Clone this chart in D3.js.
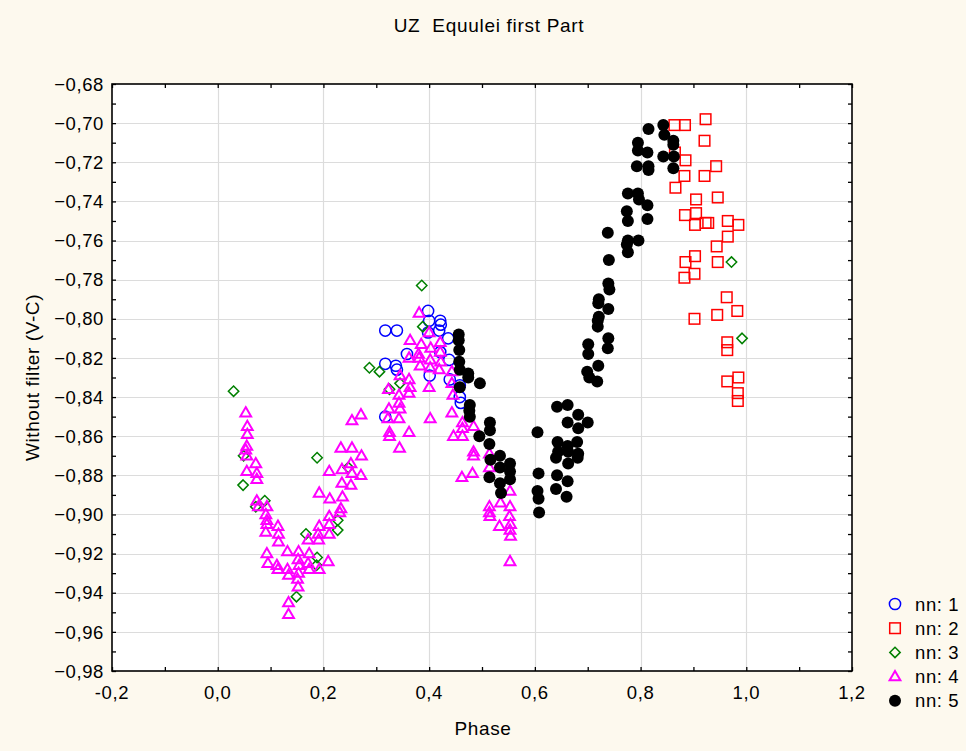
<!DOCTYPE html>
<html><head><meta charset="utf-8">
<script src="https://cdn.jsdelivr.net/npm/d3@7"></script>
<style>
html,body{margin:0;padding:0;background:#fdf9ee;}
svg{display:block;font-family:"Liberation Sans",Arial,sans-serif;}
text{white-space:pre;}
</style></head>
<body><svg id="chart" width="966" height="751"></svg>
<script>
// ---- data: [phase, V-C] ----
const titleText = "UZ  Equulei first Part";
const xLabel = "Phase";
const yLabel = "Without filter (V-C)";
const xTicks = [-0.2, 0.0, 0.2, 0.4, 0.6, 0.8, 1.0, 1.2];
const xTickLabels = ["-0,2","0,0","0,2","0,4","0,6","0,8","1,0","1,2"];
const yTicks = [-0.68,-0.70,-0.72,-0.74,-0.76,-0.78,-0.80,-0.82,-0.84,-0.86,-0.88,-0.90,-0.92,-0.94,-0.96,-0.98];
const seriesNames = ["nn: 1","nn: 2","nn: 3","nn: 4","nn: 5"];

const nn1 = [[0.398,-0.796],[0.400,-0.801],[0.421,-0.801],[0.422,-0.803],[0.419,-0.806],[0.398,-0.807],
 [0.317,-0.806],[0.339,-0.806],[0.436,-0.810],[0.358,-0.818],[0.421,-0.817],[0.438,-0.821],[0.317,-0.823],
 [0.337,-0.824],[0.339,-0.826],[0.401,-0.829],[0.439,-0.831],[0.458,-0.834],[0.458,-0.840],[0.460,-0.843],[0.317,-0.850]];

const nn2 = [[0.864,-0.701],[0.884,-0.701],[0.923,-0.698],[0.921,-0.709],[0.865,-0.715],[0.885,-0.719],[0.943,-0.722],
 [0.883,-0.727],[0.921,-0.727],[0.866,-0.733],[0.905,-0.739],[0.946,-0.738],[0.884,-0.747],[0.905,-0.746],[0.903,-0.752],
 [0.923,-0.751],[0.928,-0.751],[0.965,-0.750],[0.985,-0.752],[0.965,-0.758],[0.944,-0.763],[0.885,-0.771],[0.903,-0.768],
 [0.946,-0.771],[0.883,-0.779],[0.902,-0.777],[0.963,-0.789],[0.983,-0.796],[0.945,-0.798],[0.902,-0.800],[0.964,-0.812],
 [0.964,-0.816],[0.964,-0.832],[0.985,-0.830],[0.984,-0.838],[0.984,-0.842]];

const nn3 = [[0.030,-0.837],[0.049,-0.870],[0.048,-0.885],[0.072,-0.896],[0.089,-0.893],[0.188,-0.871],[0.167,-0.910],
 [0.227,-0.903],[0.227,-0.908],[0.247,-0.876],[0.188,-0.922],[0.187,-0.926],[0.149,-0.942],[0.388,-0.804],[0.287,-0.825],
 [0.306,-0.827],[0.345,-0.833],[0.325,-0.836],[0.386,-0.783],[0.972,-0.771],[0.992,-0.810]];

const nn4 = [[0.053,-0.848],[0.056,-0.855],[0.056,-0.859],[0.055,-0.865],[0.053,-0.867],[0.055,-0.870],[0.055,-0.878],
 [0.072,-0.874],[0.074,-0.879],[0.074,-0.882],[0.074,-0.893],[0.077,-0.896],[0.093,-0.896],[0.091,-0.900],[0.093,-0.903],
 [0.093,-0.905],[0.091,-0.909],[0.114,-0.906],[0.115,-0.910],[0.115,-0.914],[0.093,-0.920],[0.095,-0.925],[0.112,-0.926],
 [0.114,-0.928],[0.132,-0.919],[0.132,-0.928],[0.134,-0.931],[0.134,-0.945],[0.134,-0.951],[0.153,-0.919],[0.152,-0.923],
 [0.154,-0.926],[0.153,-0.930],[0.151,-0.933],[0.152,-0.937],[0.171,-0.913],[0.173,-0.920],[0.171,-0.925],[0.173,-0.928],
 [0.192,-0.889],[0.192,-0.906],[0.190,-0.910],[0.191,-0.913],[0.192,-0.928],[0.209,-0.924],[0.211,-0.878],[0.212,-0.892],
 [0.211,-0.901],[0.211,-0.905],[0.211,-0.910],[0.233,-0.866],[0.254,-0.866],[0.235,-0.877],[0.235,-0.884],[0.236,-0.891],
 [0.233,-0.897],[0.231,-0.899],[0.252,-0.874],[0.254,-0.879],[0.252,-0.885],[0.272,-0.870],[0.271,-0.880],[0.254,-0.852],
 [0.271,-0.849],
 [0.381,-0.797],[0.400,-0.807],[0.364,-0.811],[0.385,-0.813],[0.421,-0.812],[0.403,-0.815],[0.421,-0.817],[0.380,-0.818],
 [0.362,-0.820],[0.381,-0.820],[0.402,-0.821],[0.422,-0.822],[0.383,-0.824],[0.402,-0.825],[0.419,-0.826],[0.443,-0.827],
 [0.345,-0.829],[0.362,-0.831],[0.364,-0.835],[0.323,-0.836],[0.362,-0.838],[0.400,-0.835],[0.443,-0.833],[0.445,-0.839],
 [0.343,-0.839],[0.343,-0.843],[0.345,-0.846],[0.324,-0.846],[0.322,-0.851],[0.343,-0.851],[0.402,-0.851],[0.325,-0.858],
 [0.325,-0.860],[0.362,-0.858],[0.344,-0.866],
 [0.443,-0.848],[0.463,-0.853],[0.484,-0.855],[0.463,-0.856],[0.446,-0.860],[0.463,-0.860],[0.484,-0.868],[0.484,-0.870],
 [0.514,-0.869],[0.514,-0.876],[0.462,-0.881],[0.482,-0.879],[0.553,-0.888],[0.535,-0.894],[0.553,-0.896],[0.514,-0.896],
 [0.514,-0.899],[0.515,-0.901],[0.552,-0.901],[0.533,-0.906],[0.554,-0.905],[0.553,-0.908],[0.554,-0.911],[0.553,-0.924]];

const nn5 = [[0.843,-0.701],[0.815,-0.703],[0.845,-0.706],[0.862,-0.709],[0.862,-0.711],[0.795,-0.710],[0.795,-0.714],
 [0.813,-0.715],[0.843,-0.717],[0.863,-0.717],[0.793,-0.722],[0.815,-0.722],[0.815,-0.724],[0.862,-0.723],[0.776,-0.736],
 [0.795,-0.736],[0.797,-0.739],[0.813,-0.742],[0.774,-0.745],[0.776,-0.750],[0.813,-0.749],[0.738,-0.756],[0.776,-0.760],
 [0.796,-0.760],[0.774,-0.762],[0.776,-0.766],[0.740,-0.770],[0.739,-0.782],[0.741,-0.785],[0.721,-0.790],[0.720,-0.792],
 [0.739,-0.795],[0.721,-0.799],[0.719,-0.801],[0.719,-0.804],[0.739,-0.810],[0.738,-0.815],[0.701,-0.813],[0.701,-0.818],
 [0.720,-0.824],[0.699,-0.827],[0.703,-0.830],[0.718,-0.832],
 [0.642,-0.845],[0.662,-0.844],[0.682,-0.849],[0.662,-0.853],[0.700,-0.853],[0.682,-0.856],[0.605,-0.858],[0.643,-0.863],
 [0.662,-0.865],[0.680,-0.863],[0.644,-0.868],[0.663,-0.868],[0.682,-0.869],[0.640,-0.871],[0.663,-0.874],[0.681,-0.871],
 [0.607,-0.879],[0.642,-0.880],[0.662,-0.883],[0.640,-0.887],[0.605,-0.888],[0.607,-0.892],[0.660,-0.891],[0.608,-0.899],
 [0.456,-0.808],[0.456,-0.811],[0.457,-0.816],[0.457,-0.822],[0.458,-0.826],[0.474,-0.828],[0.474,-0.830],[0.496,-0.833],
 [0.458,-0.835],[0.477,-0.844],[0.476,-0.847],[0.477,-0.850],[0.515,-0.853],[0.515,-0.857],[0.495,-0.860],[0.514,-0.864],
 [0.534,-0.870],[0.516,-0.872],[0.553,-0.874],[0.534,-0.876],[0.553,-0.878],[0.514,-0.881],[0.553,-0.882],[0.534,-0.884],
 [0.536,-0.889]];

// ---- layout ----
const W = 966, H = 751;
const L = 112, R = 852, T = 84, B = 671;
const svg = d3.select("#chart");
const x = d3.scaleLinear().domain([-0.2, 1.2]).range([L, R]);
const y = d3.scaleLinear().domain([-0.98, -0.68]).range([B, T]);
const fmt = v => d3.format(".2f")(v).replace(".", ",");

svg.append("rect").attr("width", W).attr("height", H).attr("fill", "#fdf9ee");
svg.append("rect").attr("x", L).attr("y", T).attr("width", R - L).attr("height", B - T).attr("fill", "#ffffff");

// gridlines
const g = svg.append("g");
g.selectAll("line.gx").data(xTicks.slice(1, -1)).join("line")
  .attr("x1", d => Math.round(x(d)) + 0.5).attr("x2", d => Math.round(x(d)) + 0.5)
  .attr("y1", T).attr("y2", B).attr("stroke", "#dcdcdc").attr("stroke-width", 1.2);
g.selectAll("line.gy").data(yTicks.slice(1, -1)).join("line")
  .attr("y1", d => Math.round(y(d)) + 0.5).attr("y2", d => Math.round(y(d)) + 0.5)
  .attr("x1", L).attr("x2", R).attr("stroke", "#dcdcdc").attr("stroke-width", 1.2);

// axes with inward ticks
const minorX = d3.range(-0.2, 1.2001, 0.1);
const minorY = d3.range(-0.98, -0.6799, 0.01);
const axB = d3.axisBottom(x).tickValues(minorX).tickSize(-4).tickFormat("");
const axT = d3.axisTop(x).tickValues(minorX).tickSize(-4).tickFormat("");
const axL = d3.axisLeft(y).tickValues(minorY).tickSize(-4).tickFormat("");
const axR = d3.axisRight(y).tickValues(minorY).tickSize(-4).tickFormat("");
function styleAxis(sel){ sel.selectAll("path,line").attr("stroke","#000").attr("stroke-width",1.3); sel.select(".domain").remove(); }
svg.append("g").attr("transform", `translate(0,${B})`).call(axB).call(styleAxis);
svg.append("g").attr("transform", `translate(0,${T})`).call(axT).call(styleAxis);
svg.append("g").attr("transform", `translate(${L},0)`).call(axL).call(styleAxis);
svg.append("g").attr("transform", `translate(${R},0)`).call(axR).call(styleAxis);
svg.append("rect").attr("x", L).attr("y", T).attr("width", R - L).attr("height", B - T)
  .attr("fill", "none").attr("stroke", "#000").attr("stroke-width", 1.6);

// tick labels
const tickFont = 18.5;
svg.append("g").selectAll("text").data(xTicks).join("text")
  .attr("x", d => x(d)).attr("y", B + 28).attr("text-anchor", "middle")
  .attr("font-size", tickFont).attr("letter-spacing", 0.6).attr("fill", "#000")
  .text((d, i) => xTickLabels[i]);
svg.append("g").selectAll("text").data(yTicks).join("text")
  .attr("x", L - 8).attr("y", d => y(d)).attr("dy", "0.36em").attr("text-anchor", "end")
  .attr("font-size", tickFont).attr("letter-spacing", 0.6).attr("fill", "#000")
  .text(d => fmt(d));

// titles
svg.append("text").attr("x", 489).attr("y", 32).attr("text-anchor", "middle")
  .attr("font-size", 19).attr("letter-spacing", 0.7).text(titleText);
svg.append("text").attr("x", 483).attr("y", 735).attr("text-anchor", "middle")
  .attr("font-size", 19).attr("letter-spacing", 0.6).text(xLabel);
svg.append("text").attr("transform", `translate(39,${(T + B) / 2}) rotate(-90)`).attr("text-anchor", "middle")
  .attr("font-size", 19).attr("letter-spacing", 0.6).text(yLabel);

// markers
const colors = ["#0000ff", "#ff0000", "#008000", "#ff00ff", "#000000"];
const tri = "M0,-5.6L5.4,3.7L-5.4,3.7Z";
const dia = "M0,-5.2L5.2,0L0,5.2L-5.2,0Z";
function drawMarker(sel, k){
  if (k === 0) sel.append("circle").attr("r", 5.6).attr("fill", "none").attr("stroke", colors[0]).attr("stroke-width", 1.5);
  else if (k === 1) sel.append("rect").attr("x", -5.3).attr("y", -5.3).attr("width", 10.6).attr("height", 10.6).attr("fill", "none").attr("stroke", colors[1]).attr("stroke-width", 1.5);
  else if (k === 2) sel.append("path").attr("d", dia).attr("fill", "none").attr("stroke", colors[2]).attr("stroke-width", 1.5);
  else if (k === 3) sel.append("path").attr("d", tri).attr("fill", "none").attr("stroke", colors[3]).attr("stroke-width", 2).attr("stroke-linejoin", "miter");
  else sel.append("circle").attr("r", 6).attr("fill", colors[4]);
}
const allSeries = [nn1, nn2, nn3, nn4, nn5];
allSeries.forEach((data, k) => {
  svg.append("g").selectAll("g").data(data).join("g")
    .attr("transform", d => `translate(${x(d[0])},${y(d[1])})`)
    .each(function(){ drawMarker(d3.select(this), k); });
});

// legend
const lg = svg.append("g");
seriesNames.forEach((name, i) => {
  const yy = 604 + i * 24.2;
  const m = lg.append("g").attr("transform", `translate(895,${yy})`);
  drawMarker(m, i);
  lg.append("text").attr("x", 915).attr("y", yy).attr("dy", "0.36em")
    .attr("font-size", 18.5).attr("letter-spacing", 0.6).text(name);
});
</script></body></html>
